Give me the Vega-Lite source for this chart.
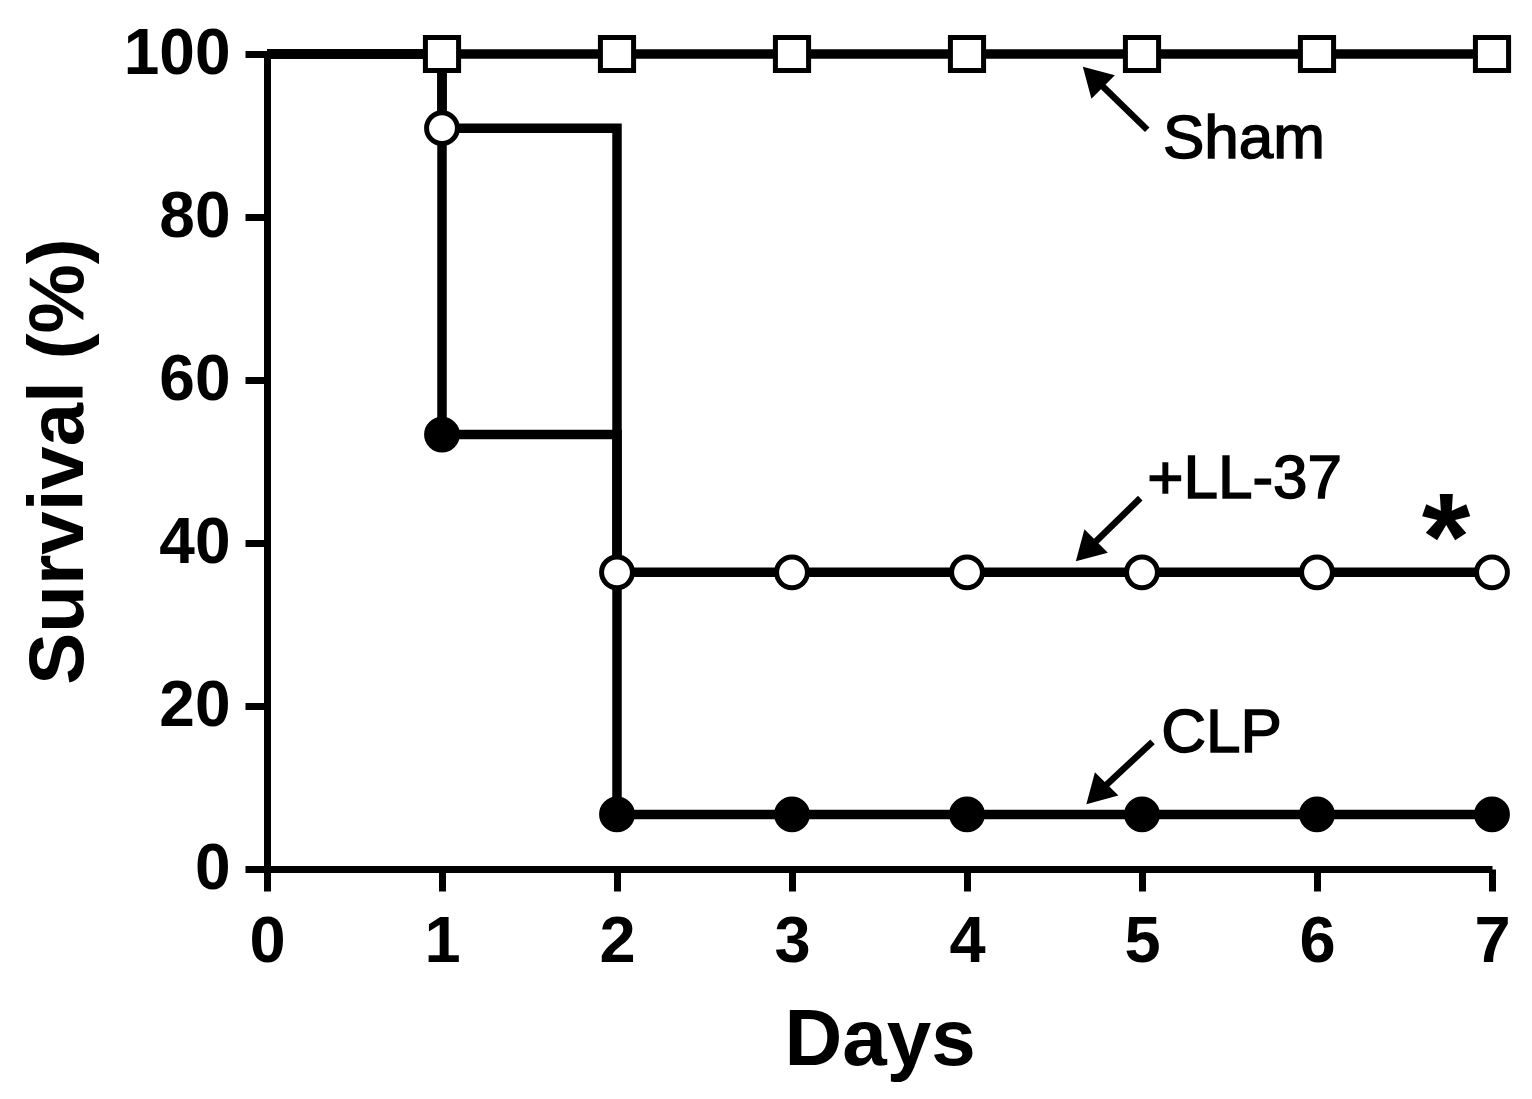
{
  "$schema": "https://vega.github.io/schema/vega-lite/v6.json",
  "width": 1225,
  "height": 815,
  "autosize": "none",
  "padding": {"left": 267, "top": 54, "right": 40, "bottom": 230},
  "background": "white",
  "config": {"view": {"stroke": null}, "font": "Liberation Sans"},
  "datasets": {
    "surv": [
      {"group": "Sham", "day": 0, "survival": 100},
      {"group": "Sham", "day": 1, "survival": 100},
      {"group": "Sham", "day": 2, "survival": 100},
      {"group": "Sham", "day": 3, "survival": 100},
      {"group": "Sham", "day": 4, "survival": 100},
      {"group": "Sham", "day": 5, "survival": 100},
      {"group": "Sham", "day": 6, "survival": 100},
      {"group": "Sham", "day": 7, "survival": 100},
      {"group": "+LL-37", "day": 0, "survival": 100},
      {"group": "+LL-37", "day": 1, "survival": 90.9},
      {"group": "+LL-37", "day": 2, "survival": 36.4},
      {"group": "+LL-37", "day": 3, "survival": 36.4},
      {"group": "+LL-37", "day": 4, "survival": 36.4},
      {"group": "+LL-37", "day": 5, "survival": 36.4},
      {"group": "+LL-37", "day": 6, "survival": 36.4},
      {"group": "+LL-37", "day": 7, "survival": 36.4},
      {"group": "CLP", "day": 0, "survival": 100},
      {"group": "CLP", "day": 1, "survival": 53.3},
      {"group": "CLP", "day": 2, "survival": 6.7},
      {"group": "CLP", "day": 3, "survival": 6.7},
      {"group": "CLP", "day": 4, "survival": 6.7},
      {"group": "CLP", "day": 5, "survival": 6.7},
      {"group": "CLP", "day": 6, "survival": 6.7},
      {"group": "CLP", "day": 7, "survival": 6.7}
    ],
    "arrows": [
      {"group": "Sham", "day": 5.03, "survival": 90.7, "day2": 4.72, "survival2": 97.2},
      {"group": "+LL-37", "day": 4.99, "survival": 45.5, "day2": 4.68, "survival2": 39.0},
      {"group": "CLP", "day": 5.06, "survival": 15.6, "day2": 4.74, "survival2": 9.2}
    ],
    "labels": [
      {"label": "Sham", "day": 5.12, "survival": 87.2},
      {"label": "+LL-37", "day": 5.03, "survival": 45.5},
      {"label": "CLP", "day": 5.11, "survival": 14.4}
    ],
    "star": [{"label": "*", "day": 6.737, "survival": 35.5}]
  },
  "layer": [
    {
      "data": {"name": "surv"},
      "mark": {"type": "line", "interpolate": "step-after", "color": "black", "strokeWidth": 9.5},
      "encoding": {
        "x": {
          "field": "day", "type": "quantitative",
          "scale": {"domain": [0, 7], "nice": false, "zero": false},
          "axis": {
            "values": [0, 1, 2, 3, 4, 5, 6, 7],
            "format": "d",
            "title": "Days",
            "grid": false,
            "domainColor": "black", "domainWidth": 7,
            "tickColor": "black", "tickWidth": 7, "tickSize": 22,
            "labelFontSize": 65, "labelFontWeight": "bold", "labelColor": "black",
            "labelPadding": 19, "labelFlush": false, "labelOverlap": false,
            "titleFontSize": 80, "titleFontWeight": "bold", "titleColor": "black",
            "titleY": 195, "titleBaseline": "alphabetic"
          }
        },
        "y": {
          "field": "survival", "type": "quantitative",
          "scale": {"domain": [0, 100], "nice": false},
          "axis": {
            "values": [0, 20, 40, 60, 80, 100],
            "format": "d",
            "title": "Survival (%)",
            "grid": false,
            "domainColor": "black", "domainWidth": 7,
            "tickColor": "black", "tickWidth": 7, "tickSize": 22,
            "labelFontSize": 64, "labelFontWeight": "bold", "labelColor": "black",
            "labelPadding": 15, "labelFlush": false, "labelOverlap": false,
            "titleFontSize": 78, "titleFontWeight": "bold", "titleColor": "black",
            "titleAngle": -90, "titleX": -185, "titleY": 407, "titleAlign": "center", "titleBaseline": "alphabetic"
          }
        },
        "detail": {"field": "group"}
      }
    },
    {
      "data": {"name": "arrows"},
      "mark": {"type": "rule", "color": "black", "strokeWidth": 6.5},
      "encoding": {
        "x": {"field": "day", "type": "quantitative"},
        "y": {"field": "survival", "type": "quantitative"},
        "x2": {"field": "day2"},
        "y2": {"field": "survival2"}
      }
    },
    {
      "data": {"name": "arrows"},
      "transform": [{"filter": "datum.group === 'Sham'"}],
      "mark": {"type": "point", "shape": "triangle-up", "filled": true, "color": "black", "size": 1100, "angle": 315, "opacity": 1},
      "encoding": {
        "x": {"field": "day2", "type": "quantitative"},
        "y": {"field": "survival2", "type": "quantitative"}
      }
    },
    {
      "data": {"name": "arrows"},
      "transform": [{"filter": "datum.group !== 'Sham'"}],
      "mark": {"type": "point", "shape": "triangle-up", "filled": true, "color": "black", "size": 1100, "angle": 225, "opacity": 1},
      "encoding": {
        "x": {"field": "day2", "type": "quantitative"},
        "y": {"field": "survival2", "type": "quantitative"}
      }
    },
    {
      "data": {"name": "surv"},
      "transform": [{"filter": "datum.day > 0 && datum.group === 'Sham'"}],
      "mark": {"type": "point", "shape": "square", "filled": true, "fill": "white", "stroke": "black", "strokeWidth": 5, "size": 1100, "opacity": 1},
      "encoding": {
        "x": {"field": "day", "type": "quantitative"},
        "y": {"field": "survival", "type": "quantitative"}
      }
    },
    {
      "data": {"name": "surv"},
      "transform": [{"filter": "datum.day > 0 && datum.group !== 'Sham'"}],
      "mark": {"type": "point", "shape": "circle", "filled": true, "stroke": "black", "strokeWidth": 5, "size": 950, "opacity": 1},
      "encoding": {
        "x": {"field": "day", "type": "quantitative"},
        "y": {"field": "survival", "type": "quantitative"},
        "fill": {"field": "group", "type": "nominal", "scale": {"domain": ["+LL-37", "CLP"], "range": ["white", "black"]}, "legend": null}
      }
    },
    {
      "data": {"name": "labels"},
      "mark": {"type": "text", "align": "left", "baseline": "alphabetic", "fontSize": 62, "color": "black", "stroke": "black", "strokeWidth": 1.5, "font": "Liberation Sans"},
      "encoding": {
        "x": {"field": "day", "type": "quantitative"},
        "y": {"field": "survival", "type": "quantitative"},
        "text": {"field": "label"}
      }
    },
    {
      "data": {"name": "star"},
      "mark": {"type": "text", "align": "center", "baseline": "alphabetic", "fontSize": 125, "fontWeight": "bold", "color": "black", "font": "Liberation Sans"},
      "encoding": {
        "x": {"field": "day", "type": "quantitative"},
        "y": {"field": "survival", "type": "quantitative"},
        "text": {"field": "label"}
      }
    }
  ]
}
